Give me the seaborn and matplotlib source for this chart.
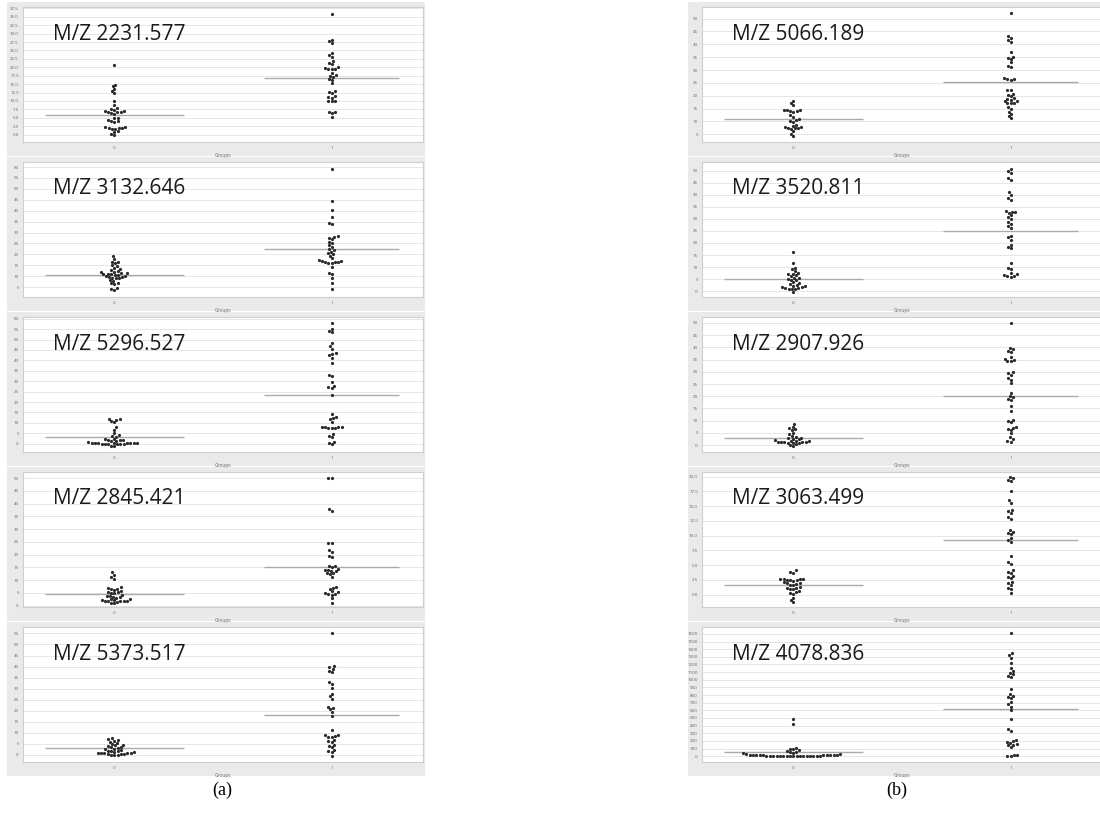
import warnings
warnings.filterwarnings("ignore")
import numpy as np
import pandas as pd
import matplotlib
matplotlib.use("Agg")
import matplotlib.pyplot as plt
from matplotlib.patches import Rectangle
import seaborn as sns

# ---------------- data ----------------
group_names = ["0", "1"]

mz_labels = ["M/Z 2231.577", "M/Z 3132.646", "M/Z 5296.527", "M/Z 2845.421", "M/Z 5373.517",
             "M/Z 5066.189", "M/Z 3520.811", "M/Z 2907.926", "M/Z 3063.499", "M/Z 4078.836"]

p1_low = [20.6, 14.8, 14.3, 13.5, 12.9, 12.3, 10.1, 8.7, 8.0, 7.6, 7.3, 7.0, 6.9, 6.8, 6.7, 6.6, 6.5, 6.2,
          5.0, 4.8, 4.2, 4.0, 3.9, 3.8, 2.4, 2.2, 2.1, 2.0, 1.9, 1.8, 1.7, 1.0, 0.8, 0.3, -0.2]
p1_high = [35.7, 28.2, 27.7, 27.2, 24.2, 23.6, 23.1, 21.8, 21.3, 20.9, 20.0, 19.8, 19.6, 19.5, 19.4, 18.2,
           17.7, 17.5, 17.2, 16.6, 16.3, 15.3, 13.0, 12.8, 12.5, 11.5, 11.2, 11.0, 10.1, 10.0, 10.1, 6.8,
           6.7, 6.4, 5.2]

p2_low = [19.1, 17.7, 16.7, 16.3, 15.9, 15.0, 14.5, 13.9, 13.2, 12.8, 12.3, 12.0, 11.8, 11.6, 11.4, 11.2,
          11.0, 10.8, 10.6, 10.5, 10.3, 10.0, 9.8, 9.6, 9.4, 9.1, 9.0, 8.2, 7.9, 6.9, 6.7, 6.5, 4.7, 4.2, 3.6]
p2_high = [59.3, 44.6, 40.3, 36.9, 34.6, 33.8, 28.3, 28.0, 27.6, 27.1, 25.9, 25.2, 24.3, 23.4, 22.3, 22.1,
           21.3, 20.6, 20.0, 19.4, 18.2, 17.3, 17.0, 16.8, 16.6, 16.5, 16.3, 16.1, 16.0, 14.2, 11.6, 11.0,
           9.4, 7.1, 4.2]

p3_low = [11.9, 11.8, 11.4, 11.0, 10.2, 7.8, 6.8, 5.3, 4.0, 3.6, 3.2, 2.4, 2.2, 2.0, 1.8, 1.6, 1.3, 1.2,
          0.6, 0.5, 0.4, 0.3, 0.3, 0.2, 0.2, 0.1, 0.1, 0.0, 0.0, -0.1, -0.1, -0.2, -0.3, -1.0, -1.2]
p3_high = [58.0, 55.1, 54.0, 53.5, 48.4, 46.7, 45.4, 43.6, 43.0, 42.4, 41.3, 38.7, 33.2, 32.4, 29.6, 27.5,
           27.0, 26.6, 23.3, 14.1, 12.6, 12.2, 11.7, 10.5, 8.1, 8.0, 7.9, 7.8, 7.7, 7.6, 7.5, 4.5, 3.8, 3.2,
           0.8, 0.2, -0.3]

p4_low = [13.1, 12.2, 11.1, 10.5, 7.2, 7.0, 6.7, 6.5, 6.3, 5.6, 5.4, 5.2, 5.0, 4.8, 4.2, 4.0, 3.8, 3.6,
          3.3, 3.1, 2.6, 2.5, 2.4, 2.2, 2.0, 1.9, 1.8, 1.7, 1.7, 1.6, 1.2, 0.9]
p4_high = [50.0, 50.0, 37.9, 37.2, 24.6, 24.6, 21.9, 21.1, 19.6, 19.0, 15.7, 15.4, 15.1, 14.4, 14.1, 13.9,
           13.7, 13.5, 12.9, 12.7, 12.5, 11.4, 7.5, 7.0, 6.6, 5.6, 5.2, 4.9, 4.6, 4.4, 4.3, 2.9, 0.9]

p5_low = [7.5, 7.2, 6.8, 6.4, 6.0, 5.6, 4.9, 4.6, 4.3, 4.0, 3.7, 3.4, 3.2, 2.9, 2.6, 2.2, 2.0, 1.8, 1.6,
          1.4, 1.1, 1.0, 0.9, 0.8, 0.7, 0.7, 0.6, 0.6, 0.5, 0.0, -0.1, 0.1]
p5_high = [55.0, 40.2, 39.6, 39.0, 38.2, 37.6, 33.0, 32.0, 30.2, 27.6, 26.5, 25.3, 21.7, 21.2, 20.6, 19.4,
           17.6, 11.1, 9.1, 8.8, 8.5, 8.3, 8.0, 6.8, 6.4, 6.0, 4.5, 4.0, 3.4, 2.2, 1.8, 1.4, -0.5]

p6_low = [18.1, 17.1, 16.2, 14.6, 14.5, 14.3, 14.1, 13.9, 13.8, 12.5, 11.9, 10.9, 10.6, 10.3, 9.9, 8.8,
          8.3, 8.0, 7.8, 7.6, 7.5, 7.3, 7.2, 6.2, 5.0, 4.2]
p6_high = [52.1, 43.1, 42.5, 41.8, 40.9, 36.9, 35.2, 34.7, 34.3, 33.0, 31.4, 31.0, 26.8, 26.6, 26.4, 26.3,
           22.4, 22.4, 20.7, 20.2, 19.8, 19.1, 18.8, 18.5, 18.1, 17.8, 17.3, 17.1, 17.0, 15.8, 14.9, 13.8,
           13.0, 12.2, 11.2]

p7_low = [16.4, 11.9, 9.8, 9.1, 8.4, 7.7, 7.3, 7.0, 6.6, 6.3, 5.6, 5.3, 5.0, 4.8, 4.6, 3.8, 3.3, 2.8, 2.4,
          2.2, 2.0, 1.8, 1.6, 1.4, 1.3, 1.0, 1.0, 0.9, -0.3]
p7_high = [50.8, 50.0, 49.0, 46.9, 46.2, 41.0, 39.9, 38.5, 37.8, 33.2, 33.0, 32.8, 32.6, 31.5, 30.8, 30.1,
           28.7, 28.0, 26.9, 26.2, 23.1, 22.4, 21.4, 19.2, 18.5, 17.8, 11.9, 9.8, 9.1, 7.7, 7.2, 6.8, 6.5,
           6.2, 6.0]

p8_low = [8.8, 7.6, 7.0, 6.6, 6.3, 5.1, 4.5, 3.8, 3.4, 3.1, 2.9, 2.6, 2.4, 2.1, 1.9, 1.7, 1.5, 1.4, 1.3,
          1.2, 1.1, 1.1, 1.0, 1.0, 0.9, 0.3, 0.0, -0.3]
p8_high = [50.0, 39.9, 39.2, 38.6, 38.2, 36.1, 35.4, 35.0, 34.6, 34.3, 29.9, 29.4, 28.8, 27.4, 26.8, 25.3,
           21.5, 20.2, 19.5, 19.0, 18.5, 16.0, 13.9, 10.4, 9.8, 9.3, 7.6, 7.2, 6.8, 6.3, 4.9, 3.5, 2.5, 1.6,
           1.4]

p9_low = [4.1, 3.9, 3.7, 2.7, 2.7, 2.6, 2.6, 2.5, 2.5, 2.4, 2.3, 2.1, 2.0, 1.9, 1.8, 1.7, 1.6, 1.3, 1.2,
          1.1, 1.0, 0.9, 0.6, 0.5, 0.3, 0.1, -0.6, -0.9, -1.2]
p9_high = [19.9, 19.7, 19.5, 19.3, 17.5, 16.0, 15.5, 14.4, 14.2, 13.9, 13.2, 12.8, 10.9, 10.7, 10.5, 10.3,
           9.6, 9.3, 9.0, 6.6, 5.5, 5.2, 4.1, 3.9, 3.7, 3.2, 3.0, 2.8, 2.2, 2.0, 1.7, 1.2, 0.9, 0.3]

p10_low = [480, 427, 111, 98, 90, 80, 67, 58, 50, 45, 36, 30, 25, 22, 20, 18, 16, 15, 14, 13, 12, 11, 10,
           9, 8, 8, 7, 7, 6, 6, 5, 5, 4, 4, 3, 3, 2, 2, 1, 1]
p10_high = [1615, 1348, 1320, 1282, 1215, 1148, 1113, 1090, 1070, 1050, 1037, 881, 814, 790, 775, 761, 703,
            680, 650, 605, 480, 356, 334, 214, 200, 190, 170, 160, 150, 140, 125, 13, 10, 5, 0]

low_groups = [p1_low, p2_low, p3_low, p4_low, p5_low, p6_low, p7_low, p8_low, p9_low, p10_low]
high_groups = [p1_high, p2_high, p3_high, p4_high, p5_high, p6_high, p7_high, p8_high, p9_high, p10_high]

# group centre lines
low_center = [5.7, 10.7, 3.2, 4.6, 3.1, 10.9, 5.2, 3.1, 1.6, 58]
high_center = [16.8, 22.3, 23.3, 15.3, 18.2, 25.3, 24.8, 20.2, 9.2, 614]

# axis ranges and tick labels
y_limits = [(-2.2, 37.9), (0.5, 62.3), (-4.0, 60.8), (-0.5, 52.4), (-3.2, 57.9),
            (2.0, 54.5), (-2.4, 53.6), (-2.8, 52.4), (-2.1, 20.8), (-76, 1690)]
y_tick_start = [0.0, 5, 0, 0, 0, 5, 0, 0, 0.0, 0]
y_tick_stop = [37.5, 60, 60, 50, 55, 50, 50, 50, 20.0, 1600]
y_tick_step = [2.5, 5, 5, 5, 5, 5, 5, 5, 2.5, 100]
y_tick_fmt = ["{:.1f}", "{:.0f}", "{:.0f}", "{:.0f}", "{:.0f}",
              "{:.0f}", "{:.0f}", "{:.0f}", "{:.1f}", "{:.0f}"]
panel_letters = ["(a)", "(b)"]

# ---------------- figure ----------------
sns.set_theme(style="white")
plt.rcParams["font.family"] = ["Open Sans", "DejaVu Sans"]

W, H = 1100, 814
fig = plt.figure(figsize=(W / 100, H / 100), dpi=100)

col_axes_left = [23, 702]
col_grey_left = [7, 688]
col_grey_width = [418, 420]
ax_w, ax_h = 400, 135

for i in range(10):
    col, row = divmod(i, 5)
    top = 7 + 155 * row
    gtop = 2 + 155 * row
    fig.patches.append(Rectangle((col_grey_left[col] / W, 1 - (gtop + 154) / H),
                                 col_grey_width[col] / W, 154 / H,
                                 transform=fig.transFigure, facecolor="#eaeaea",
                                 edgecolor="none", zorder=-5))
    ax = fig.add_axes([col_axes_left[col] / W, 1 - (top + ax_h) / H, ax_w / W, ax_h / H])
    ax.set_facecolor("white")

    df = pd.DataFrame({
        "Groups": [group_names[0]] * len(low_groups[i]) + [group_names[1]] * len(high_groups[i]),
        "Value": list(low_groups[i]) + list(high_groups[i]),
    })
    sns.swarmplot(data=df, x="Groups", y="Value", order=group_names, ax=ax,
                  color="#2b2b2b", size=2.3, linewidth=0, zorder=3)

    ax.hlines([low_center[i], high_center[i]], [-0.32, 0.69], [0.32, 1.31],
              colors="#ababab", linewidth=1.0, zorder=2)

    ax.set_xlim(-0.42, 1.42)
    ax.set_ylim(*y_limits[i])
    ticks = np.arange(y_tick_start[i], y_tick_stop[i] + y_tick_step[i] / 2, y_tick_step[i])
    ax.set_yticks(ticks)
    ax.set_yticklabels([y_tick_fmt[i].format(t) for t in ticks])
    ax.yaxis.grid(True, color="#e2e2e2", linewidth=0.6)
    ax.xaxis.grid(False)
    ax.set_axisbelow(True)
    ax.tick_params(axis="both", length=0, labelsize=3.2, labelcolor="#666666", pad=3)
    ax.set_ylabel("")
    ax.set_xlabel("Groups", fontsize=3.5, color="#666666", labelpad=2)
    for s in ax.spines.values():
        s.set_color("#cfcfcf")
        s.set_linewidth(0.8)
    ax.text(0.075, 0.80, mz_labels[i], transform=ax.transAxes, fontsize=15,
            color="#1a1a1a", ha="left", va="center", zorder=5)

fig.text(222 / W, 1 - 790 / H, panel_letters[0], fontsize=13, family="Liberation Serif",
         ha="center", va="center", color="black")
fig.text(897 / W, 1 - 790 / H, panel_letters[1], fontsize=13, family="Liberation Serif",
         ha="center", va="center", color="black")

fig.savefig("out.png", dpi=100, facecolor="white")
